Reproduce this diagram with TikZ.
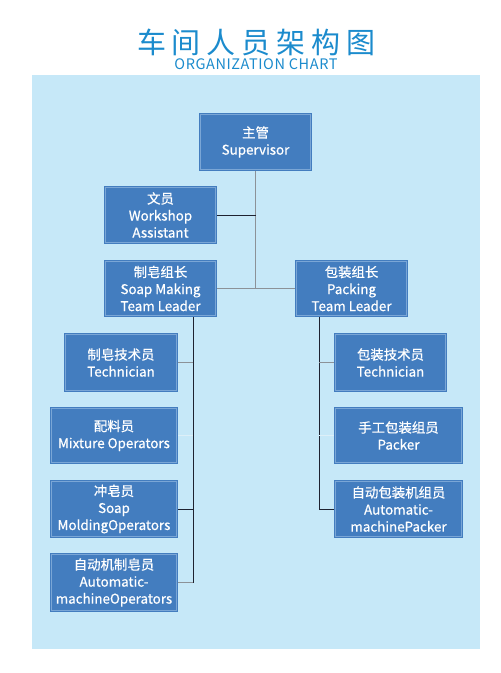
\documentclass[tikz,border=0pt]{standalone}
\usepackage{fontspec}
\setmainfont{Noto Sans CJK SC}
\newfontfamily\boxfont[FakeBold=0.6]{Noto Sans CJK SC}
\definecolor{bgblue}{HTML}{C6E8F8}
\definecolor{boxblue}{HTML}{437DBF}
\definecolor{innerln}{HTML}{7AA6D6}
\definecolor{titleblue}{HTML}{1B8BCD}
\definecolor{darkln}{HTML}{1E2230}
\definecolor{grayln}{HTML}{8C9298}
\definecolor{faintln}{HTML}{DDEFF8}
\tikzset{
  orgbox/.style={fill=boxblue, draw=none, text=white, align=center, inner sep=0pt,
    font=\boxfont\fontsize{13.4}{17}\selectfont,
    path picture={\draw[innerln, line width=0.8pt]
      ([shift={(1.8pt,1.8pt)}]path picture bounding box.south west) rectangle
      ([shift={(-1.8pt,-1.8pt)}]path picture bounding box.north east);}},
  darkc/.style={draw=darkln, line width=1pt},
  grayc/.style={draw=grayln, line width=1pt},
  faintc/.style={draw=faintln, line width=1pt}
}
\begin{document}
\begin{tikzpicture}[x=1pt,y=-1pt]
\useasboundingbox (0,0) rectangle (501,673);
\fill[white] (0,0) rectangle (501,673);
\fill[bgblue] (32,75) rectangle (480,649);
\node[text=titleblue, font=\fontsize{29}{32}\selectfont] (title) at (256.5,42)
  {车\kern6pt 间\kern6pt 人\kern6pt 员\kern6pt 架\kern6pt 构\kern6pt 图};
\node[text=titleblue, font=\addfontfeature{LetterSpace=4}\fontsize{14.5}{16}\selectfont] (sub) at (256,64.5) {ORGANIZATION CHART};

\node[orgbox, minimum width=113, minimum height=58] (sup) at (255.5,142) {主管\\Supervisor};
\node[orgbox, minimum width=113, minimum height=58] (ws) at (160.5,215) {文员\\Workshop\\Assistant};
\node[orgbox, minimum width=113, minimum height=57] (soap) at (160.5,288.5) {制皂组长\\Soap Making\\Team Leader};
\node[orgbox, minimum width=113, minimum height=57] (pack) at (351.5,288.5) {包装组长\\Packing\\Team Leader};
\node[orgbox, minimum width=114, minimum height=59] (techl) at (121,362.5) {制皂技术员\\Technician};
\node[orgbox, minimum width=128, minimum height=57] (mix) at (114,435.5) {配料员\\Mixture Operators};
\node[orgbox, minimum width=128, minimum height=58] (mold) at (114,509) {冲皂员\\Soap\\MoldingOperators};
\node[orgbox, minimum width=128, minimum height=59] (autoop) at (114,582.5) {自动机制皂员\\Automatic-\\machineOperators};
\node[orgbox, minimum width=113, minimum height=59] (techr) at (390.5,362.5) {包装技术员\\Technician};
\node[orgbox, minimum width=129, minimum height=57] (packer) at (398.5,435.5) {手工包装组员\\Packer};
\node[orgbox, minimum width=129, minimum height=58] (autopk) at (398.5,509) {自动包装机组员\\Automatic-\\machinePacker};

\coordinate (trunk) at (sup.south |- soap.east);
\coordinate (ltop) at (193,317);
\coordinate (lbot) at (193,582.5);
\coordinate (rtop) at (319,317);
\coordinate (rbot) at (319,509);

\draw[grayc] (sup.south) -- (trunk);
\draw[grayc] (soap.east) -- (pack.west);
\draw[darkc] (ws.east) -- (ws.east -| sup.south);
\draw[darkc] (ltop) -- (lbot);
\draw[grayc] (techl.east) -- (techl.east -| ltop);
\draw[faintc] (mix.east) -- (mix.east -| ltop);
\draw[darkc] (mold.east) -- (mold.east -| ltop);
\draw[grayc] (autoop.east) -- (lbot);
\draw[darkc] (rtop) -- (rbot) -- (autopk.west);
\draw[grayc] (techr.west) -- (techr.west -| rtop);
\draw[faintc] (packer.west) -- (packer.west -| rtop);
\end{tikzpicture}
\end{document}
